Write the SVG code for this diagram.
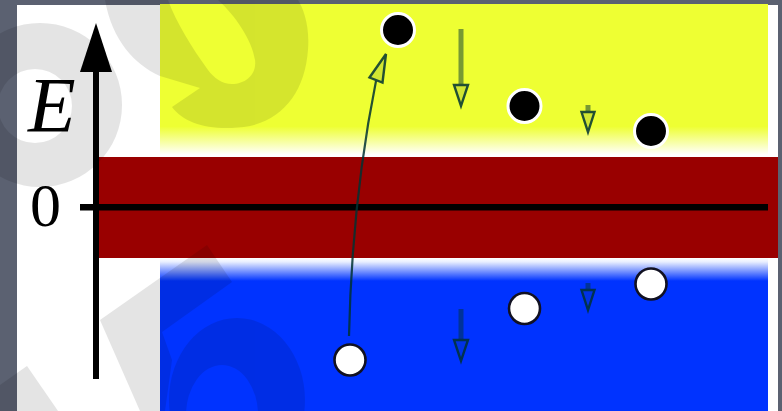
<svg xmlns="http://www.w3.org/2000/svg" width="782" height="411" viewBox="0 0 782 411">
  <defs>
    <linearGradient id="gYellow" gradientUnits="userSpaceOnUse" x1="0" y1="4" x2="0" y2="157">
      <stop offset="0" stop-color="#eeff33"/>
      <stop offset="0.8" stop-color="#eeff33"/>
      <stop offset="0.985" stop-color="#ffffff"/>
      <stop offset="1" stop-color="#ffffff"/>
    </linearGradient>
    <linearGradient id="gBlue" gradientUnits="userSpaceOnUse" x1="0" y1="258" x2="0" y2="411">
      <stop offset="0" stop-color="#ffffff"/>
      <stop offset="0.026" stop-color="#e8eeff"/>
      <stop offset="0.15" stop-color="#0033ff"/>
      <stop offset="1" stop-color="#0033ff"/>
    </linearGradient>
    <style>
      .shaft { stroke: #003333; stroke-opacity: 0.5; stroke-width: 5; fill: none; }
      .head { fill: #003333; fill-opacity: 0.12; stroke: #003333; stroke-opacity: 0.85; stroke-width: 2.4; stroke-linejoin: miter; }
      .curve { stroke: #003333; stroke-opacity: 0.85; stroke-width: 2.2; fill: none; }
      .electron { fill: #000000; stroke: #ffffff; stroke-width: 3; }
      .hole { fill: #ffffff; stroke: #111122; stroke-width: 2.6; }
      .lbl { fill: #000000; font-family: "Liberation Serif", "Times New Roman", serif; }
    </style>
  </defs>

  <!-- background -->
  <rect x="0" y="0" width="782" height="411" fill="#5b6171"/>
  <rect x="17" y="5" width="761" height="406" fill="#ffffff"/>

  <!-- bands -->
  <g id="bands">
    <rect id="conduction" x="160" y="4" width="608" height="153" fill="url(#gYellow)"/>
    <rect id="gap" x="99" y="157" width="679" height="101" fill="#990000"/>
    <rect id="valence" x="160" y="258" width="608" height="153" fill="url(#gBlue)"/>
  </g>

  <!-- axes -->
  <g id="axis">
    <rect x="93" y="68" width="6" height="311" fill="#000000"/>
    <polygon points="96,23 112,72 80,72" fill="#000000"/>
    <rect x="80" y="204" width="688" height="6.5" fill="#000000"/>
  </g>

  <g id="labels">
    <text class="lbl" x="28" y="131" font-size="78" font-style="italic">E</text>
    <text class="lbl" x="30" y="225.5" font-size="62">0</text>
  </g>

  <!-- connectors -->
  <g id="connectors">
    <path class="curve" d="M349,336 Q352,200 376,81"/>
    <polygon class="head" points="386,54 369.5,77.5 382.5,82.5"/>

    <line class="shaft" x1="461" y1="29" x2="461" y2="84"/>
    <polygon class="head" points="454,85 468,85 461,106"/>

    <line class="shaft" x1="588" y1="105" x2="588" y2="111"/>
    <polygon class="head" points="581.5,112 594.5,112 588,132"/>

    <line class="shaft" x1="461" y1="309" x2="461" y2="339"/>
    <polygon class="head" points="454,340 468,340 461,361"/>

    <line class="shaft" x1="588" y1="283" x2="588" y2="289"/>
    <polygon class="head" points="581.5,290 594.5,290 588,310"/>
  </g>

  <!-- electrons -->
  <g id="electron1"><circle class="electron" cx="398" cy="30" r="16.5"/></g>
  <g id="electron2"><circle class="electron" cx="524.5" cy="106" r="16.5"/></g>
  <g id="electron3"><circle class="electron" cx="651" cy="131" r="16.5"/></g>

  <!-- holes -->
  <g id="hole1"><circle class="hole" cx="350" cy="360" r="15.5"/></g>
  <g id="hole2"><circle class="hole" cx="524.5" cy="308.5" r="15.5"/></g>
  <g id="hole3"><circle class="hole" cx="651" cy="284" r="15.5"/></g>

  <!-- faint watermark overlay -->
  <g id="watermark" opacity="0.1" fill="#000000">
    <path fill-rule="evenodd" d="M-42,105 A82,82 0 1 0 122,105 A82,82 0 1 0 -42,105 Z M-2,106 A37,37 0 1 0 72,106 A37,37 0 1 0 -2,106 Z"/>
    <path fill-rule="evenodd" d="M105,0 C112,40 135,65 160,76 L200,88 L172,107 C185,125 215,132 250,126 C285,118 305,90 308,50 C310,25 303,8 298,0 Z M168,0 L218,0 C235,15 252,40 255,60 C257,75 245,84 232,84 C222,84 214,78 208,70 C192,48 176,22 168,0 Z"/>
    <polygon points="27,366 0,385 0,411 58,411"/>
    <polygon points="100,320 207,245 232,282 162,332 172,360 165,411 140,411"/>
    <path fill-rule="evenodd" d="M169,400 A68,82 0 1 0 305,400 A68,82 0 1 0 169,400 Z M186,415 A36,50 0 1 0 258,415 A36,50 0 1 0 186,415 Z"/>
  </g>
</svg>
